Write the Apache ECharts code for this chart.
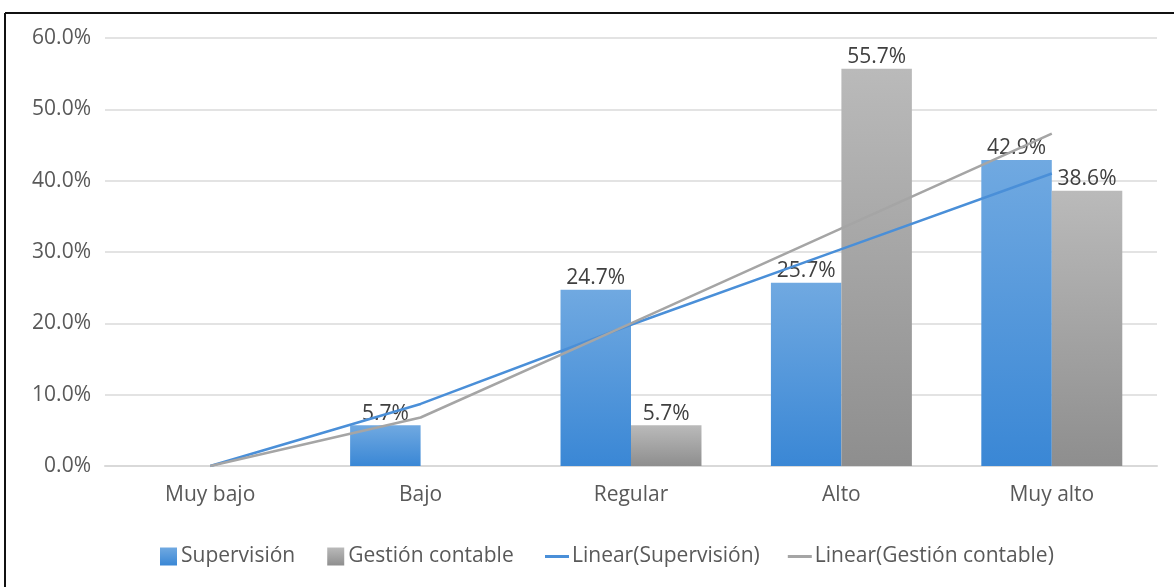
<!DOCTYPE html>
<html>
<head>
<meta charset="utf-8">
<script src="https://cdn.jsdelivr.net/npm/echarts@6/dist/echarts.min.js"></script>
<style>
html, body { margin: 0; padding: 0; background: #fff; }
#chart { width: 1174px; height: 587px; }
</style>
</head>
<body>
<div id="chart"></div>
<script>
// niveles
var categories = ['Muy bajo', 'Bajo', 'Regular', 'Alto', 'Muy alto'];
var supervision = [0, 5.7, 24.7, 25.7, 42.9];
var gestion = [0, 0, 5.7, 55.7, 38.6];
// lineas de tendencia
var trendSupervision = [0, 8.7, 19.8, 30.4, 41.0];
var trendGestion = [0, 6.8, 20.0, 33.3, 46.6];
var yTicks = [0, 10, 20, 30, 40, 50, 60];

var fontName = 'Open Sans';
var fs = 21;
var chart = echarts.init(document.getElementById('chart'));

function pctLabel(p) {
    if (p.value == 0) return '';
    return p.value.toFixed(1) + '%';
}

var option = {
    backgroundColor: '#fff',
    animation: false,
    textStyle: { fontFamily: fontName },
    grid: {
        left: 105,
        right: 17,
        top: 38,
        bottom: 121,
        outerBoundsMode: 'none'
    },
    legend: [{
        data: ['Supervisión', 'Gestión contable'],
        left: 155,
        top: 541,
        icon: 'rect',
        itemWidth: 17,
        itemHeight: 18,
        itemGap: 32,
        textStyle: { color: '#595959', fontSize: fs, fontFamily: fontName, padding: [0, 0, 0, -1] }
    }, {
        data: ['Linear(Supervisión)', 'Linear(Gestión contable)'],
        left: 540,
        top: 541,
        icon: 'rect',
        itemWidth: 24,
        itemHeight: 3,
        itemGap: 28,
        textStyle: { color: '#595959', fontSize: fs, fontFamily: fontName, padding: [0, 0, 0, -2] }
    }],
    xAxis: {
        type: 'category',
        data: categories,
        axisTick: { show: false },
        axisLine: { lineStyle: { color: '#d9d9d9', width: 2 } },
        axisLabel: { color: '#595959', fontSize: fs, margin: 19 }
    },
    yAxis: {
        type: 'value',
        min: yTicks[0],
        max: yTicks[yTicks.length - 1],
        interval: 10,
        axisLine: { show: false },
        axisTick: { show: false },
        splitLine: { lineStyle: { color: '#e3e3e3', width: 2 } },
        axisLabel: {
            color: '#595959',
            fontSize: fs,
            margin: 14,
            formatter: function (v) { return v.toFixed(1) + '%'; }
        }
    },
    graphic: [{
        type: 'line',
        shape: { x1: 5, y1: 13, x2: 1174, y2: 13 },
        style: { stroke: '#111', lineWidth: 2 }
    }, {
        type: 'line',
        shape: { x1: 5, y1: 13, x2: 5, y2: 587 },
        style: { stroke: '#111', lineWidth: 2 }
    }],
    series: [{
        name: 'Supervisión',
        type: 'bar',
        data: supervision,
        barGap: '0%',
        barCategoryGap: '33%',
        itemStyle: {
            color: new echarts.graphic.LinearGradient(0, 0, 0, 1, [
                { offset: 0, color: '#70a9e1' },
                { offset: 1, color: '#3a87d5' }
            ])
        },
        label: {
            show: true,
            position: 'top',
            distance: 1,
            color: '#404040',
            fontSize: fs,
            formatter: pctLabel
        },
        z: 2
    }, {
        name: 'Gestión contable',
        type: 'bar',
        data: gestion,
        itemStyle: {
            color: new echarts.graphic.LinearGradient(0, 0, 0, 1, [
                { offset: 0, color: '#bababa' },
                { offset: 1, color: '#8e8e8e' }
            ])
        },
        label: {
            show: true,
            position: 'top',
            distance: 1,
            color: '#404040',
            fontSize: fs,
            formatter: pctLabel
        },
        z: 2
    }, {
        name: 'Linear(Supervisión)',
        type: 'line',
        data: trendSupervision,
        symbol: 'none',
        itemStyle: { color: '#4a8fd8' },
        lineStyle: { color: '#4a8fd8', width: 2.5 },
        z: 3
    }, {
        name: 'Linear(Gestión contable)',
        type: 'line',
        data: trendGestion,
        symbol: 'none',
        itemStyle: { color: '#a5a5a5' },
        lineStyle: { color: '#a5a5a5', width: 2.5 },
        z: 3
    }]
};

chart.setOption(option);
</script>
</body>
</html>
